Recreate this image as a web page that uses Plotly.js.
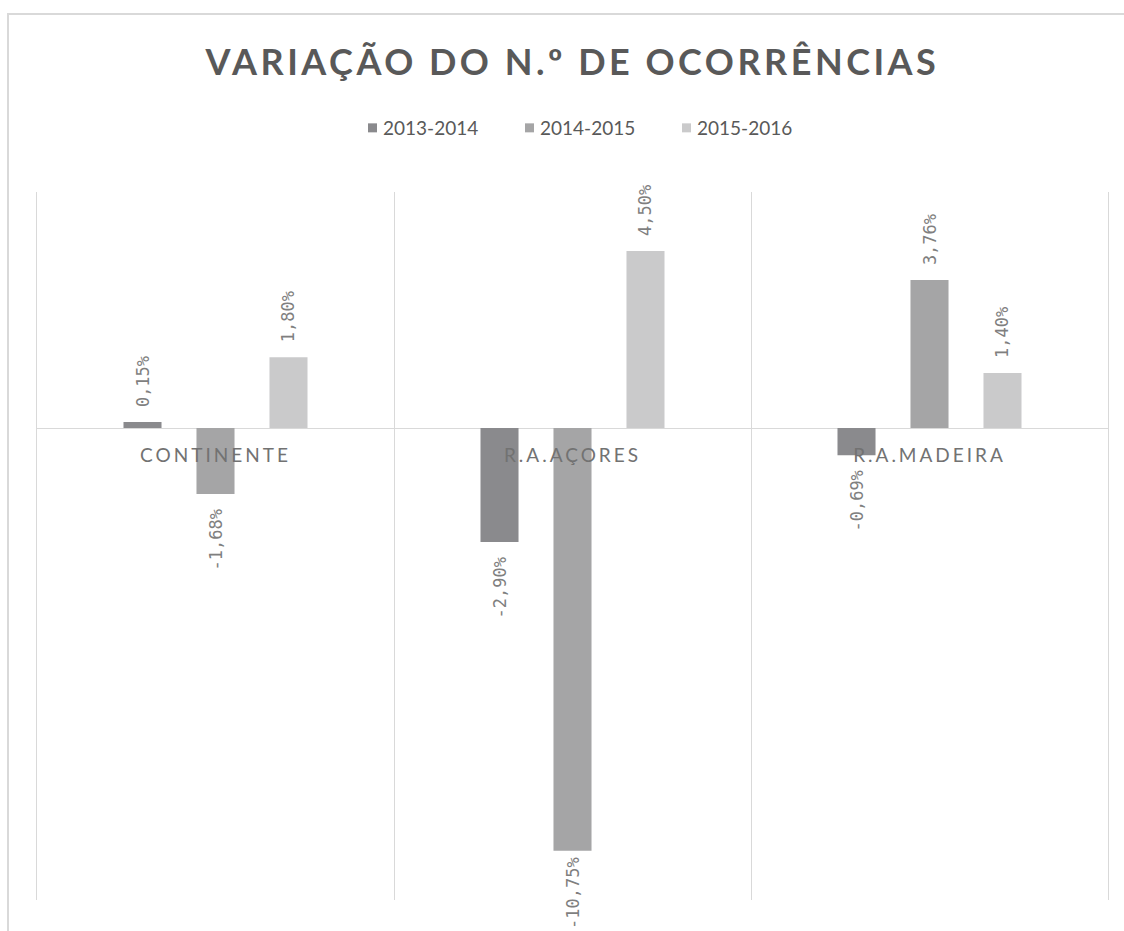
<!DOCTYPE html>
<html>
<head>
<meta charset="utf-8">
<script src="https://cdn.plot.ly/plotly-3.0.1.min.js"></script>
<style>
html, body { margin: 0; padding: 0; overflow: hidden; background: #ffffff; width: 1124px; height: 931px; }
#frame { position: absolute; left: 7px; top: 13px; width: 1300px; height: 1100px; border: 2px solid #d9d9d9; box-sizing: border-box; }
#chart { position: absolute; left: 0; top: 0; width: 1124px; height: 931px; }
.xtick text { letter-spacing: 3px; }
.gtitle { letter-spacing: 3.5px; }
.legendpoints path { transform: translate(29.5px, 0px) scale(0.75); }
</style>
</head>
<body>
<div id="frame"></div>
<div id="chart"></div>
<script>
const categories = ["CONTINENTE", "R.A.AÇORES", "R.A.MADEIRA"];
const seriesNames = ["2013-2014", "2014-2015", "2015-2016"];
const values2013_2014 = [0.15, -2.90, -0.69];
const values2014_2015 = [-1.68, -10.75, 3.76];
const values2015_2016 = [1.80, 4.50, 1.40];
const seriesColors = ["#8a8a8d", "#a5a5a6", "#cacacb"];

const allValues = [values2013_2014, values2014_2015, values2015_2016];
const fmt = v => v.toFixed(2).replace('.', ',') + '%';

const traces = allValues.map((vals, i) => ({
  type: 'bar',
  name: seriesNames[i],
  x: categories,
  y: vals,
  text: vals.map(fmt),
  textposition: 'outside',
  textangle: -90,
  constraintext: 'none',
  cliponaxis: false,
  textfont: { family: 'DejaVu Sans Mono', size: 17, color: '#7f7f7f' },
  marker: { color: seriesColors[i], line: { width: 0 } },
  hoverinfo: 'skip'
}));

const layout = {
  width: 1124,
  height: 931,
  paper_bgcolor: 'rgba(0,0,0,0)',
  plot_bgcolor: 'rgba(0,0,0,0)',
  margin: { l: 37, r: 16, t: 192, b: 31 },
  title: {
    text: 'VARIAÇÃO DO N.º DE OCORRÊNCIAS',
    x: 0.5, xref: 'paper', xanchor: 'center',
    y: 1 - 62 / 931, yanchor: 'middle',
    font: { family: 'Lato', size: 36, weight: 'bold', color: '#595959' }
  },
  showlegend: true,
  legend: {
    orientation: 'h',
    x: 0.5056, xanchor: 'center',
    y: 1 + 64 / 708, yanchor: 'middle',
    font: { family: 'Lato', size: 19, color: '#595959' },
    traceorder: 'normal',
    entrywidth: 112
  },
  barmode: 'group',
  bargap: 0.3866,
  bargroupgap: 0.479,
  xaxis: {
    type: 'category',
    categoryorder: 'array',
    categoryarray: categories,
    tickson: 'boundaries',
    showgrid: true,
    gridcolor: '#d9d9d9',
    gridwidth: 1,
    ticks: '',
    showline: false,
    zeroline: false,
    anchor: 'free',
    position: 12 / 18,
    ticklabelstandoff: 14,
    tickfont: { family: 'Lato', size: 19, color: '#727272' },
    fixedrange: true
  },
  yaxis: {
    range: [-12, 6],
    showgrid: false,
    showticklabels: false,
    ticks: '',
    zeroline: true,
    zerolinecolor: '#d9d9d9',
    zerolinewidth: 1,
    showline: true,
    mirror: true,
    linecolor: '#d9d9d9',
    linewidth: 1,
    fixedrange: true
  },
  hovermode: false
};

Plotly.newPlot('chart', traces, layout, { staticPlot: true, displayModeBar: false }).then(gd => {
  // push the outside value labels a little further from the bar ends, as in the reference,
  // but never past the bottom of the page
  const pageBottom = 929;
  const traceGroups = gd.querySelectorAll('.barlayer .trace.bars');
  traceGroups.forEach((tg, ti) => {
    const pts = tg.querySelectorAll('.point');
    pts.forEach((p, pi) => {
      const t = p.querySelector('text.bartext');
      if (!t) return;
      const v = allValues[ti][pi];
      let shift = 12;
      t.setAttribute('dx', v >= 0 ? shift : -shift);
      if (v < 0) {
        const over = t.getBoundingClientRect().bottom - pageBottom;
        if (over > 0) {
          shift = Math.max(0, shift - over);
          t.setAttribute('dx', -shift);
        }
      }
    });
  });
});
</script>
</body>
</html>
